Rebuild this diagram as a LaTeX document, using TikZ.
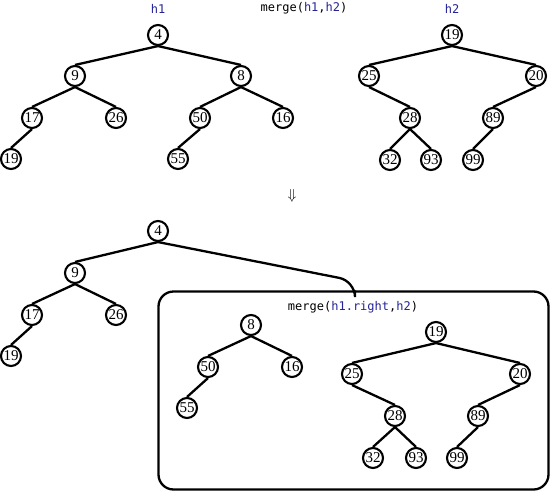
\documentclass[tikz,border=0pt]{standalone}
\usepackage{fontspec}
\setmainfont{Liberation Serif}
\newfontfamily\codefont{DejaVu Sans Mono}
\usepackage{tikz}
\definecolor{hblue}{RGB}{36,36,150}
\newcommand{\hv}[1]{\textcolor{hblue}{#1}}

\begin{document}
\begin{tikzpicture}[x=1pt,y=-1pt,line width=2.3pt,
  n/.style={circle,draw,line width=2.1pt,minimum size=20pt,inner sep=0pt,font=\fontsize{15}{15}\selectfont},
  lbl/.style={font=\codefont\fontsize{12}{12}\selectfont,inner sep=1pt}]
  \useasboundingbox (0,0) rectangle (552,493);

  \node[lbl] (hl1) at (158,9) {\hv{h1}};
  \node[lbl] (hl2) at (452,9) {\hv{h2}};
  \node[lbl] (mg) at (304,8) {merge(\hv{h1},\hv{h2})};

  \node[n] (x4) at (158,35) {4};
  \node[n] (x9) at (75,76) {9};
  \node[n] (x8) at (241,76) {8};
  \node[n] (x17) at (32,118) {17};
  \node[n] (x26) at (116,118) {26};
  \node[n] (x50) at (200,118) {50};
  \node[n] (x16) at (283,118) {16};
  \node[n] (x19) at (11,159) {19};
  \node[n] (x55) at (178,159) {55};

  \draw (x4.south) -- (x9.north);
  \draw (x4.south) -- (x8.north);
  \draw (x9.south) -- (x17.north);
  \draw (x9.south) -- (x26.north);
  \draw (x8.south) -- (x50.north);
  \draw (x8.south) -- (x16.north);
  \draw (x17.south) -- (x19.north);
  \draw (x50.south) -- (x55.north);

  \node[n] (y19) at (452,35) {19};
  \node[n] (y25) at (369,76) {25};
  \node[n] (y20) at (536,76) {20};
  \node[n] (y28) at (410,118) {28};
  \node[n] (y89) at (493,118) {89};
  \node[n] (y32) at (390,160) {32};
  \node[n] (y93) at (431,160) {93};
  \node[n] (y99) at (473,160) {99};

  \draw (y19.south) -- (y25.north);
  \draw (y19.south) -- (y20.north);
  \draw (y25.south) -- (y28.north);
  \draw (y20.south) -- (y89.north);
  \draw (y28.south) -- (y32.north);
  \draw (y28.south) -- (y93.north);
  \draw (y89.south) -- (y99.north);

  \node[font=\fontsize{15}{15}\selectfont] (dn) at (292,196) {$\Downarrow$};

  \node[n] (m4) at (158,231) {4};
  \node[n] (m9) at (75,273) {9};
  \node[n] (m17) at (32,315) {17};
  \node[n] (m26) at (116,315) {26};
  \node[n] (m19) at (11,356) {19};

  \draw (m4.south) -- (m9.north);
  \draw (m9.south) -- (m17.north);
  \draw (m9.south) -- (m26.north);
  \draw (m17.south) -- (m19.north);

  \node[draw,rounded corners=15pt,minimum width=390pt,minimum height=198pt,inner sep=0pt] (box) at (353.5,390.5) {};
  \coordinate (bend) at (355,281);
  \draw[rounded corners=16pt] (m4.south) -- (bend) -- (box.north -| bend);
  \node[lbl] (mr) at (353,307) {merge(\hv{h1.right},\hv{h2})};

  \node[n] (r8) at (251,325) {8};
  \node[n] (r50) at (208,367) {50};
  \node[n] (r16) at (292,367) {16};
  \node[n] (r55) at (187,408) {55};

  \draw (r8.south) -- (r50.north);
  \draw (r8.south) -- (r16.north);
  \draw (r50.south) -- (r55.north);

  \node[n] (s19) at (436,332) {19};
  \node[n] (s25) at (352,374) {25};
  \node[n] (s20) at (520,374) {20};
  \node[n] (s28) at (395,416) {28};
  \node[n] (s89) at (478,416) {89};
  \node[n] (s32) at (373,458) {32};
  \node[n] (s93) at (416,458) {93};
  \node[n] (s99) at (457,458) {99};

  \draw (s19.south) -- (s25.north);
  \draw (s19.south) -- (s20.north);
  \draw (s25.south) -- (s28.north);
  \draw (s20.south) -- (s89.north);
  \draw (s28.south) -- (s32.north);
  \draw (s28.south) -- (s93.north);
  \draw (s89.south) -- (s99.north);
\end{tikzpicture}
\end{document}
